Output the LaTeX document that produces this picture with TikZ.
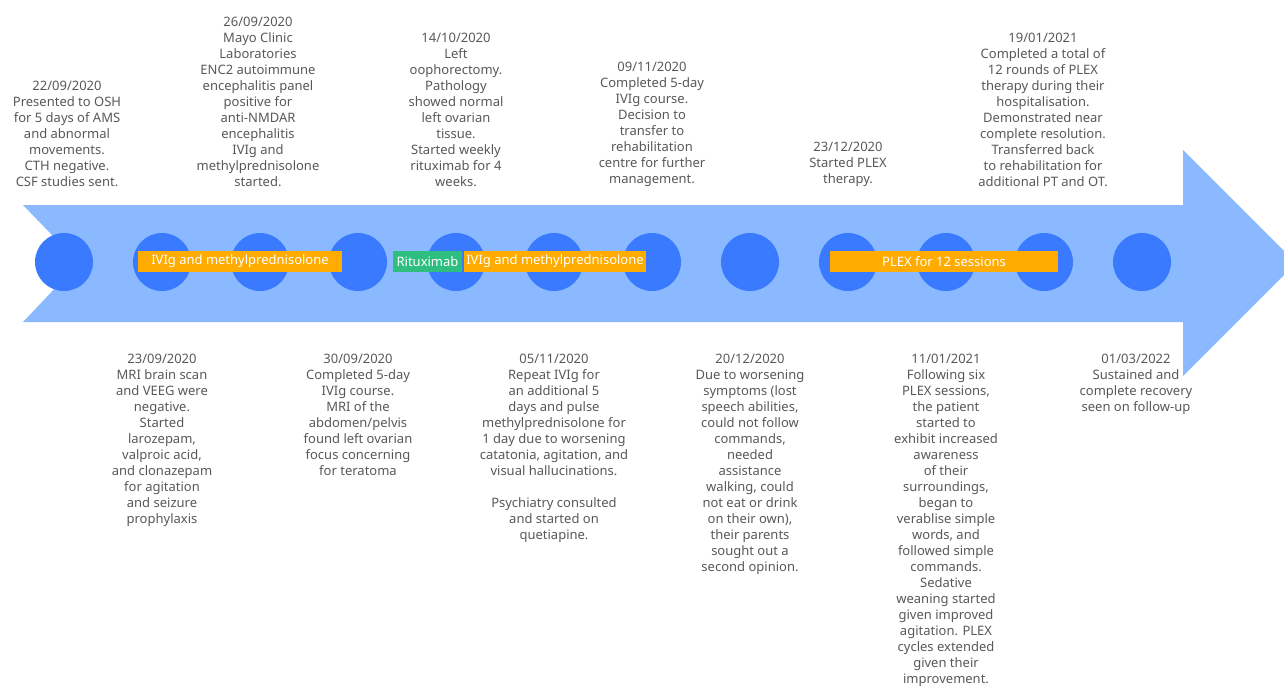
\documentclass[tikz,border=0pt]{standalone}
\usepackage{fontspec}
\setmainfont{Noto Sans}
\usetikzlibrary{positioning}
\definecolor{tlarrow}{RGB}{138,185,255}
\definecolor{tldot}{RGB}{57,122,255}
\definecolor{tlorange}{RGB}{255,171,0}
\definecolor{tlgreen}{RGB}{45,190,128}
\definecolor{tltext}{RGB}{88,88,88}
\tikzstyle{eventdot} = [circle, fill=tldot, minimum size=58pt, inner sep=0pt]
\tikzstyle{eventnote} = [align=center, text=tltext, font=\fontsize{13}{16}\selectfont, inner sep=0pt]
\tikzstyle{treatbar} = [rectangle, minimum height=21pt, inner sep=0pt, text=white, font=\fontsize{13}{16}\selectfont]

\begin{document}
\begin{tikzpicture}[x=1pt, y=-1pt]
\clip (0,0) rectangle (1284,686);

% Timeline arrow
\fill[tlarrow] (23,205) -- (1183,205) -- (1183,150) -- (1296,263) -- (1183,376) -- (1183,322) -- (23,322) -- (79,263) -- cycle;

% Event dots
\node[eventdot] (d1) at (64,262) {};
\node[eventdot] (d2) at (162,262) {};
\node[eventdot] (d3) at (260,262) {};
\node[eventdot] (d4) at (358,262) {};
\node[eventdot] (d5) at (456,262) {};
\node[eventdot] (d6) at (554,262) {};
\node[eventdot] (d7) at (652,262) {};
\node[eventdot] (d8) at (750,262) {};
\node[eventdot] (d9) at (848,262) {};
\node[eventdot] (d10) at (946,262) {};
\node[eventdot] (d11) at (1044,262) {};
\node[eventdot] (d12) at (1142,262) {};

% Treatment bars
\node[treatbar, fill=tlorange, minimum width=204pt] (ivig1) at (240,261.5) {IVIg and methylprednisolone};
\node[treatbar, fill=tlgreen, minimum width=69pt] (ritux) at (427.5,261.5) {Rituximab};
\node[treatbar, fill=tlorange, minimum width=182pt] (ivig2) at (555,261.5) {IVIg and methylprednisolone};
\node[treatbar, fill=tlorange, minimum width=228pt] (plex) at (944,261.5) {PLEX for 12 sessions};

% Notes above
\node[eventnote, above=46pt of d1, xshift=3pt] (n1) {22/09/2020\\Presented to OSH\\for 5 days of AMS\\and abnormal\\movements.\\CTH negative.\\CSF studies sent.};
\node[eventnote, above=46pt of d3, xshift=-2pt] (n3) {26/09/2020\\Mayo Clinic\\Laboratories\\ENC2 autoimmune\\encephalitis panel\\positive for\\anti-NMDAR\\encephalitis\\IVIg and\\methylprednisolone\\started.};
\node[eventnote, above=46pt of d5] (n5) {14/10/2020\\Left\\oophorectomy.\\Pathology\\showed normal\\left ovarian\\tissue.\\Started weekly\\rituximab for 4\\weeks.};
\node[eventnote, above=46pt of d7] (n7) {09/11/2020\\Completed 5-day\\IVIg course.\\Decision to\\transfer to\\rehabilitation\\centre for further\\management.};
\node[eventnote, above=46pt of d9] (n9) {23/12/2020\\Started PLEX\\therapy.};
\node[eventnote, above=46pt of d11, xshift=-1pt] (n11) {19/01/2021\\Completed a total of\\12 rounds of PLEX\\therapy during their\\hospitalisation.\\Demonstrated near\\complete resolution.\\Transferred back\\to rehabilitation for\\additional PT and OT.};

% Notes below
\node[eventnote, below=63pt of d2] (n2) {23/09/2020\\MRI brain scan\\and VEEG were\\negative.\\Started\\larozepam,\\valproic acid,\\and clonazepam\\for agitation\\and seizure\\prophylaxis};
\node[eventnote, below=63pt of d4] (n4) {30/09/2020\\Completed 5-day\\IVIg course.\\MRI of the\\abdomen/pelvis\\found left ovarian\\focus concerning\\for teratoma};
\node[eventnote, below=63pt of d6] (n6) {05/11/2020\\Repeat IVIg for\\an additional 5\\days and pulse\\methylprednisolone for\\1 day due to worsening\\catatonia, agitation, and\\visual hallucinations.\\[16pt]Psychiatry consulted\\and started on\\quetiapine.};
\node[eventnote, below=63pt of d8] (n8) {20/12/2020\\Due to worsening\\symptoms (lost\\speech abilities,\\could not follow\\commands,\\needed\\assistance\\walking, could\\not eat or drink\\on their own),\\their parents\\sought out a\\second opinion.};
\node[eventnote, below=63pt of d10] (n10) {11/01/2021\\Following six\\PLEX sessions,\\the patient\\started to\\exhibit increased\\awareness\\of their\\surroundings,\\began to\\verablise simple\\words, and\\followed simple\\commands.\\Sedative\\weaning started\\given improved\\agitation. PLEX\\cycles extended\\given their\\improvement.};
\node[eventnote, below=63pt of d12, xshift=-6pt] (n12) {01/03/2022\\Sustained and\\complete recovery\\seen on follow-up};
\end{tikzpicture}
\end{document}
